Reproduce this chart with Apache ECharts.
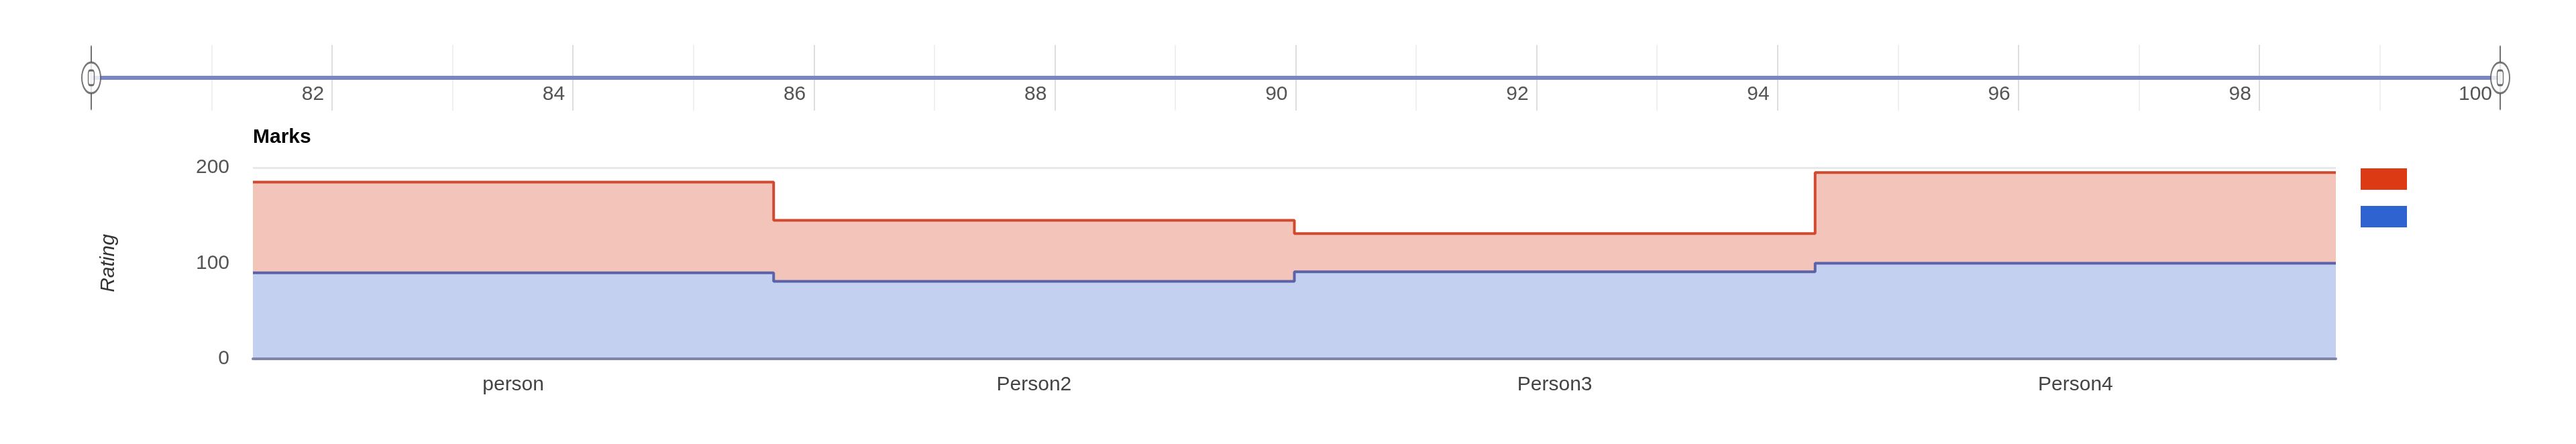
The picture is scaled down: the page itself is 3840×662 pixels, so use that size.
<!DOCTYPE html>
<html>
<head>
<meta charset="utf-8">
<script src="https://cdn.jsdelivr.net/npm/echarts@6/dist/echarts.min.js"></script>
<style>
html,body{margin:0;padding:0;background:#fff;}
#chart{width:3840px;height:662px;}
</style>
</head>
<body>
<div id="chart"></div>
<script>
// ---- data ----
var categories = ['person', 'Person2', 'Person3', 'Person4'];
var upperSeries = [185, 145, 131, 195];   // red series
var lowerSeries = [90, 81, 91, 100];      // blue series
var yTicks = [0, 100, 200];
var sliderRange = [80, 100];
var sliderTickStep = 2;

var FONT = 'Arial, "Liberation Sans", sans-serif';

function stepPoints(vals) {
  var pts = vals.map(function (v, i) { return [i, v]; });
  pts.push([vals.length, vals[vals.length - 1]]);
  return pts;
}

var chart = echarts.init(document.getElementById('chart'), null, {renderer: 'canvas'});

var option = {
  backgroundColor: '#ffffff',
  animation: false,
  title: {
    text: 'Marks',
    left: 377, top: 190, padding: 0,
    textStyle: {fontFamily: FONT, fontSize: 30, fontWeight: 'bold', color: '#000'}
  },
  legend: {
    orient: 'vertical',
    left: 3519, top: 251,
    padding: 0,
    itemGap: 24,
    itemWidth: 69, itemHeight: 32,
    formatter: function () { return ''; },
    data: [
      {name: 'Series A', icon: 'rect', itemStyle: {color: '#dc3a14'}},
      {name: 'Series B', icon: 'rect', itemStyle: {color: '#2f63cf'}}
    ]
  },
  grid: [
    {left: 377, right: 358, top: 250, bottom: 127},
    {left: 136, right: 113, top: 67, bottom: 497}
  ],
  xAxis: [
    {
      type: 'category', gridIndex: 0, data: categories, boundaryGap: true,
      z: 10,
      axisLine: {show: true, lineStyle: {color: '#7d85a8', width: 4}},
      axisTick: {show: false},
      axisLabel: {fontFamily: FONT, fontSize: 30, color: '#444', margin: 24},
      splitLine: {show: false}
    },
    {
      type: 'value', gridIndex: 0, min: 0, max: categories.length, show: false
    },
    {
      type: 'value', gridIndex: 1, min: sliderRange[0], max: sliderRange[1],
      interval: sliderTickStep, position: 'bottom',
      axisLine: {show: false},
      axisTick: {show: false},
      axisLabel: {
        inside: true, margin: 9, align: 'right', padding: [0, 12, 0, 0],
        showMinLabel: false,
        fontFamily: FONT, fontSize: 30, color: '#555'
      },
      splitLine: {show: true, lineStyle: {color: '#dedede', width: 2}},
      minorTick: {show: false, splitNumber: 2},
      minorSplitLine: {show: true, lineStyle: {color: '#f0f0f0', width: 2}}
    }
  ],
  yAxis: [
    {
      type: 'value', gridIndex: 0, min: yTicks[0], max: yTicks[yTicks.length - 1],
      interval: yTicks[1] - yTicks[0],
      name: 'Rating', nameLocation: 'middle', nameGap: 200, nameRotate: 90,
      nameTextStyle: {fontFamily: FONT, fontSize: 30, fontStyle: 'italic', color: '#333'},
      axisLine: {show: false},
      axisTick: {show: false},
      axisLabel: {fontFamily: FONT, fontSize: 30, color: '#555', margin: 35},
      splitLine: {show: true, lineStyle: {color: '#e8e8e8', width: 3}}
    },
    {
      type: 'value', gridIndex: 1, min: -1, max: 1, show: false
    }
  ],
  series: [
    {
      name: 'Series A', type: 'line', xAxisIndex: 1, yAxisIndex: 0,
      step: 'end', showSymbol: false, symbol: 'none',
      data: stepPoints(upperSeries),
      lineStyle: {color: '#cf4a2f', width: 4},
      itemStyle: {color: '#dc3a14'},
      areaStyle: {color: '#f3c4b9', opacity: 1, origin: 'start'},
      z: 2
    },
    {
      name: 'Series B', type: 'line', xAxisIndex: 1, yAxisIndex: 0,
      step: 'end', showSymbol: false, symbol: 'none',
      data: stepPoints(lowerSeries),
      lineStyle: {color: '#5a62aa', width: 4},
      itemStyle: {color: '#2f63cf'},
      areaStyle: {color: '#c4d0f0', opacity: 1, origin: 'start'},
      z: 3
    },
    {
      name: 'slider-track', type: 'line', xAxisIndex: 2, yAxisIndex: 1,
      showSymbol: false, symbol: 'none', silent: true,
      data: [[sliderRange[0], 0], [sliderRange[1], 0]],
      lineStyle: {color: '#7887c4', width: 6},
      z: 3
    },
    {
      name: 'slider-stem', type: 'scatter', xAxisIndex: 2, yAxisIndex: 1, silent: true,
      data: [[sliderRange[0], 0], [sliderRange[1], 0]],
      symbol: 'rect', symbolSize: [2, 95],
      itemStyle: {color: '#555'},
      z: 4
    },
    {
      name: 'slider-handle', type: 'scatter', xAxisIndex: 2, yAxisIndex: 1, silent: true,
      data: [[sliderRange[0], 0], [sliderRange[1], 0]],
      symbol: 'circle', symbolSize: [28, 46],
      itemStyle: {color: '#ffffff', borderColor: '#555', borderWidth: 2.5},
      z: 5
    },
    {
      name: 'slider-grip', type: 'scatter', xAxisIndex: 2, yAxisIndex: 1, silent: true,
      data: [[sliderRange[0], 0], [sliderRange[1], 0]],
      symbol: 'roundRect', symbolSize: [9, 22],
      itemStyle: {color: '#f4f4f4', borderColor: '#444', borderWidth: 2},
      z: 6
    }
  ]
};

chart.setOption(option);
</script>
</body>
</html>
